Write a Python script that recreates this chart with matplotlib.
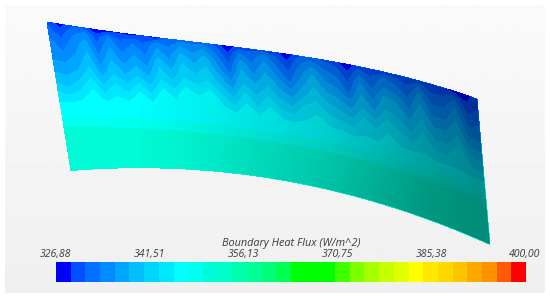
import numpy as np
from matplotlib import pyplot as plt
from matplotlib.colors import ListedColormap, BoundaryNorm
from matplotlib.patches import Polygon

tick_labels = ['326,88', '341,51', '356,13', '370,75', '385,38', '400,00']
bar_title = 'Boundary Heat Flux (W/m^2)'
vmin, vmax = 326.88, 400.00

band_colors = ['#0000ff', '#0050ff', '#0070ff', '#008cff', '#00a5ff', '#00c0ff', '#00d5ff', '#00e8ff',
               '#00ffff', '#00ffee', '#00fbd6', '#00ffc4', '#00ffac', '#00ff95', '#00ff78', '#00ff50',
               '#00ff00', '#00ff00', '#00ff00', '#40ff00', '#80ff00', '#a5ff00', '#c8ff00', '#e0ff00',
               '#ffff00', '#ffe800', '#ffd800', '#ffc400', '#ffa800', '#ff9000', '#ff5a00', '#ff0000']

# outline of the blade, pixels
top_edge_x = [47, 120, 200, 280, 360, 430, 477]
top_edge_y = [22, 33, 43, 53, 67, 84, 99]
bot_edge_x = [71, 130, 200, 270, 370, 430, 490]
bot_edge_y = [171, 167, 169, 180, 200, 219, 245]

# flux read along the span, one list per depth
row_depth = [0, 0.05, 0.12, 0.2, 0.3, 0.42, 0.55, 0.62, 0.72, 1]
flux_rows = [
    [331, 328, 331, 331, 327.5, 328.5, 329, 328, 330, 328, 332, 333, 333, 333, 331, 327.5, 330, 331, 331, 330, 327.5, 331, 332, 331, 330, 327.5, 330, 331, 330, 329.5, 330, 329.5, 330, 329.5, 328, 327.5, 331],
    [332, 330, 333, 335, 330, 334, 331, 333, 331, 335, 333, 336, 335, 336, 333, 329, 334, 332, 335, 332, 329, 333, 335, 333, 332, 329, 333, 331, 334, 333, 331, 334, 331, 331, 333, 329, 331],
    [334, 332, 335, 337, 332, 336, 333, 335, 333, 337, 335, 339, 337, 339, 335, 331, 337, 334, 337, 334, 331, 335, 338, 335, 334, 331, 336, 333, 336, 335, 333, 337, 333, 333, 336, 331, 332],
    [335, 334, 336, 339, 334, 338, 335, 337, 335, 340, 337, 341, 339, 341, 337, 333, 339, 336, 339, 336, 333, 337, 340, 337, 336, 333, 338, 335, 339, 338, 335, 339, 335, 335, 338, 333, 334],
    [337, 337, 338, 341, 337, 340, 338, 340, 338, 342, 340, 343, 342, 343, 340, 337, 341, 339, 341, 339, 337, 340, 342, 340, 339, 337, 340, 338, 341, 340, 338, 341, 338, 338, 340, 336, 336],
    [341, 340, 342, 345, 341, 344, 342, 345, 342, 346, 344, 347, 345, 347, 344, 341, 345, 342, 345, 342, 341, 344, 345, 343, 342, 341, 344, 342, 345, 343, 341, 344, 341, 341, 344, 340, 340],
    [345.5, 345.5, 346, 346, 346, 346.5, 346.5, 346.5, 346.5, 346.5, 346.5, 346.5, 346.5, 346.5, 346.5, 346, 346, 346, 346, 346, 346, 346, 346, 346, 346, 345.5, 345.5, 345.5, 345.5, 345.5, 345.5, 345.5, 345, 345, 345, 344, 344],
    [347, 347, 347, 347, 347, 347, 347, 347, 347, 347, 347, 347, 347, 347, 347, 347, 347, 347, 347, 347, 347, 347, 347, 347, 347, 347, 347, 347, 347, 347, 347, 347, 347, 347, 347, 347, 347],
    [350, 350, 350, 350, 350, 350, 350, 350, 350, 350, 350, 350, 350, 350, 350, 350, 350, 350, 350, 350, 350, 350, 350, 350, 350, 350, 350, 350, 350, 350, 350, 350, 350, 350, 350, 350, 350],
    [351, 351, 351, 351, 351, 351, 351, 351, 351, 351, 351, 351, 351, 351, 351, 351, 351, 351, 351, 351, 351, 351, 351, 351, 351, 351, 351, 351, 351, 351, 351, 351, 351, 351, 351, 351, 351],
]

# how much the lighting darkens the blade from left to right, top and bottom
shade_top = [0, 0, 0, 0, 0, 0, 0, 0, 0.01, 0.02, 0.03, 0.04, 0.05, 0.06, 0.07, 0.08, 0.09, 0.1, 0.11, 0.12, 0.13, 0.14, 0.15, 0.16, 0.18, 0.2, 0.22, 0.24, 0.26, 0.28, 0.3, 0.32, 0.34, 0.36, 0.38, 0.4, 0.4, 0.4]
shade_bot = [0, 0, 0, 0, 0, 0, 0, 0, 0.01, 0.02, 0.03, 0.04, 0.05, 0.07, 0.08, 0.1, 0.12, 0.14, 0.15, 0.17, 0.19, 0.2, 0.22, 0.24, 0.26, 0.28, 0.3, 0.32, 0.34, 0.36, 0.38, 0.4, 0.41, 0.42, 0.43, 0.44, 0.44, 0.44]

fig = plt.figure(figsize=(5.5, 2.97), dpi=100)
axes = fig.add_axes([0, 0, 1, 1])
axes.axis('off')

# panel background
grad = np.linspace(0.98, 0.938, 100)[:, None]
axes.imshow(grad, cmap='gray', vmin=0, vmax=1, extent=[5, 545, 293, 5], aspect='auto', zorder=0)

flux = np.array(flux_rows)
ncol = flux.shape[1]
fit_x = np.linspace(top_edge_x[0], top_edge_x[-1], ncol)
tx, ty = fit_x, np.polyval(np.polyfit(top_edge_x, top_edge_y, 3), fit_x)
fit_x = np.linspace(bot_edge_x[0], bot_edge_x[-1], ncol)
bx, by = fit_x, np.polyval(np.polyfit(bot_edge_x, bot_edge_y, 3), fit_x)
depth = np.array(row_depth)[:, None]
xx = tx + (bx - tx) * depth
yy = ty + (by - ty) * depth

levels = np.linspace(vmin, vmax, len(band_colors) + 1)
cmap = ListedColormap(band_colors)
norm = BoundaryNorm(levels, cmap.N)
axes.contourf(xx, yy, flux, levels=levels, cmap=cmap, norm=norm, zorder=2)

# lighting as a black image with varying alpha, clipped to the blade
rgba = np.zeros((2, len(shade_top), 4))
rgba[0, :, 3] = shade_top
rgba[1, :, 3] = shade_bot
light = axes.imshow(rgba, extent=[40, 510, 255, 12], aspect='auto', interpolation='bilinear', zorder=3)
outline = Polygon(np.r_[np.c_[tx, ty], np.c_[bx, by][::-1]], closed=True, transform=axes.transData)
light.set_clip_path(outline)

# colour bar
bar_x = np.linspace(56, 526, len(band_colors) + 1)
axes.pcolormesh(bar_x, [262, 282], (levels[:-1] + levels[1:])[None, :] / 2, cmap=cmap, norm=norm, zorder=2)
for x, lab in zip(np.linspace(55, 525, len(tick_labels)), tick_labels):
    axes.text(x, 257, lab, ha='center', va='baseline', fontsize=7.6, style='italic',
              family='Open Sans', color='#3c3c3c')
axes.text(291, 246, bar_title, ha='center', va='baseline', fontsize=7.8, style='italic',
          family='Open Sans', color='#3c3c3c')

axes.set_xlim(0, 550)
axes.set_ylim(297, 0)

fig.savefig('out.png', dpi=100)
